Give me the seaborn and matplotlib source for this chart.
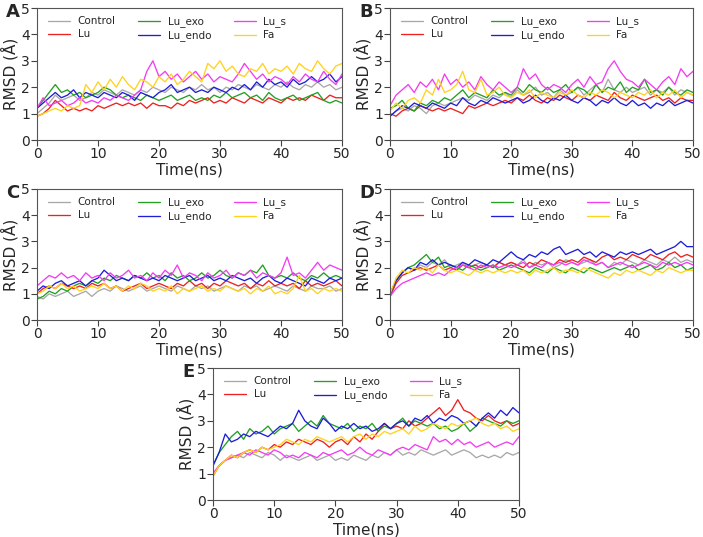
import numpy as np
import pandas as pd
import matplotlib
matplotlib.use("Agg")
import matplotlib.pyplot as plt
import seaborn as sns

# --- 1. DATA (RMSD in Angstrom, sampled every 1 ns) ---
time_ns = list(range(0, 51))
series_names = ["Control", "Lu", "Lu_exo", "Lu_endo", "Lu_s", "Fa"]
panel_letters = ["A", "B", "C", "D", "E"]

# Panel A
ctrl_A = [1.0, 1.2, 1.4, 1.7, 1.5, 1.6, 1.7, 1.5, 1.6, 1.8,
          1.7, 1.9, 1.8, 1.7, 1.9, 1.8, 1.7, 1.9, 1.8, 2.0,
          1.9, 1.8, 2.0, 1.9, 1.8, 2.0, 1.9, 2.1, 1.9, 2.0,
          1.8, 2.0, 1.9, 2.1, 2.0, 1.9, 2.1, 2.0, 1.9, 2.1,
          2.0, 2.2, 2.0, 1.9, 2.1, 2.0, 2.2, 2.0, 2.1, 1.9, 2.0]
lu_A = [0.9, 1.0, 1.2, 1.5, 1.3, 1.1, 1.2, 1.1, 1.2, 1.1,
        1.3, 1.2, 1.3, 1.4, 1.3, 1.4, 1.3, 1.4, 1.2, 1.4,
        1.3, 1.3, 1.2, 1.4, 1.3, 1.5, 1.4, 1.5, 1.6, 1.4,
        1.5, 1.4, 1.6, 1.5, 1.4, 1.6, 1.5, 1.4, 1.6, 1.5,
        1.4, 1.6, 1.5, 1.6, 1.5, 1.7, 1.6, 1.5, 1.7, 1.6, 1.6]
exo_A = [1.2, 1.5, 1.8, 2.1, 1.8, 1.9, 1.7, 1.8, 1.6, 1.7,
         1.8, 2.0, 1.9, 1.7, 1.6, 1.7, 1.6, 1.5, 1.7, 1.6,
         1.5, 1.6, 1.7, 1.5, 1.6, 1.7, 1.5, 1.6, 1.5, 1.7,
         1.6, 1.8, 1.6, 1.7, 1.8, 1.6, 1.7, 1.5, 1.8, 1.6,
         1.5, 1.6, 1.7, 1.5, 1.6, 1.7, 1.8, 1.5, 1.4, 1.5, 1.4]
endo_A = [1.2, 1.4, 1.6, 1.8, 1.6, 1.7, 1.9, 1.6, 1.8, 1.7,
          1.6, 1.8, 1.7, 1.6, 1.8, 1.7, 1.5, 1.8, 1.7, 1.6,
          1.8, 1.9, 2.1, 1.8, 1.9, 2.0, 1.8, 1.9, 1.8, 2.0,
          1.9, 1.8, 2.0, 1.9, 2.1, 1.9, 2.2, 2.0, 2.3, 2.1,
          2.2, 2.0, 2.3, 2.1, 2.2, 2.4, 2.2, 2.3, 2.5, 2.2, 2.4]
s_A = [1.2, 1.6, 1.3, 1.4, 1.5, 1.3, 1.4, 1.6, 1.4, 1.5,
       1.4, 1.6, 1.5, 1.7, 1.6, 1.5, 1.7, 1.9, 2.6, 3.0,
       2.4, 2.6, 2.3, 2.5, 2.2, 2.4, 2.6, 2.3, 2.5, 2.2,
       2.4, 2.3, 2.2, 2.5, 2.9, 2.6, 2.3, 2.5, 2.2, 2.4,
       2.3, 2.1, 2.4, 2.2, 2.5, 2.3, 2.2, 2.6, 2.3, 2.1, 2.5]
fa_A = [0.9, 1.0, 1.1, 1.2, 1.1, 1.3, 1.2, 1.3, 2.1, 1.8,
        2.2, 1.9, 2.3, 2.0, 2.4, 2.1, 1.9, 2.3, 2.2, 2.0,
        2.4, 2.2, 2.5, 2.1, 2.3, 2.6, 2.4, 2.2, 2.9, 2.7,
        3.0, 2.6, 2.8, 2.5, 2.4, 2.7, 2.6, 2.9, 2.5, 2.7,
        2.6, 2.8, 2.5, 2.9, 2.7, 2.6, 3.0, 2.7, 2.5, 2.8, 2.9]

# Panel B
ctrl_B = [0.9, 1.1, 1.2, 1.1, 1.3, 1.2, 1.0, 1.3, 1.4, 1.3,
          1.4, 1.5, 1.6, 1.5, 1.7, 1.6, 1.5, 1.7, 1.6, 1.8,
          1.6, 1.9, 1.7, 1.8, 2.0, 1.7, 1.8, 1.6, 1.9, 1.7,
          1.8, 2.0, 1.7, 1.9, 2.1, 1.8, 2.3, 1.9, 1.8, 2.0,
          1.8, 1.9, 2.0, 1.7, 1.9, 1.8, 2.0, 1.7, 1.9, 1.8, 1.7]
lu_B = [1.0, 0.9, 1.1, 1.2, 1.1, 1.3, 1.2, 1.1, 1.2, 1.1,
        1.2, 1.1, 1.0, 1.3, 1.2, 1.3, 1.4, 1.3, 1.4, 1.5,
        1.4, 1.6, 1.5, 1.7, 1.5, 1.4, 1.6, 1.5, 1.7, 1.6,
        1.5, 1.7, 1.6, 1.5, 1.7, 1.6, 1.5, 1.8, 1.6, 1.5,
        1.7, 1.6, 1.5, 1.6, 1.7, 1.5, 1.6, 1.4, 1.6, 1.5, 1.5]
exo_B = [1.2, 1.3, 1.5, 1.2, 1.1, 1.4, 1.3, 1.5, 1.4, 1.6,
         1.5, 1.7, 1.9, 1.6, 1.8, 1.7, 1.6, 1.9, 1.7, 1.8,
         1.7, 2.0, 1.8, 2.1, 1.9, 1.8, 2.0, 1.8, 1.9, 2.1,
         1.8, 2.0, 1.9, 1.7, 2.1, 1.8, 2.0, 1.9, 2.2, 1.8,
         2.0, 1.9, 2.3, 1.8, 1.9, 1.7, 2.0, 1.8, 1.7, 1.9, 1.8]
endo_B = [0.9, 1.1, 1.3, 1.2, 1.4, 1.3, 1.2, 1.4, 1.3, 1.2,
          1.4, 1.3, 1.6, 1.4, 1.3, 1.5, 1.4, 1.6, 1.5, 1.4,
          1.5, 1.6, 1.4, 1.5, 1.7, 1.5, 1.4, 1.6, 1.5, 1.7,
          1.5, 1.4, 1.6, 1.5, 1.3, 1.5, 1.4, 1.6, 1.4, 1.3,
          1.5, 1.3, 1.4, 1.2, 1.4, 1.3, 1.5, 1.3, 1.4, 1.5, 1.4]
s_B = [1.3, 1.7, 1.9, 2.1, 1.8, 2.2, 2.0, 2.3, 1.9, 2.5,
       2.1, 2.3, 2.0, 2.2, 1.9, 2.4, 2.1, 1.9, 2.2, 2.0,
       1.8, 2.0, 2.7, 2.3, 2.5, 2.1, 1.9, 2.1, 2.0, 1.8,
       2.1, 2.3, 2.0, 2.4, 2.1, 2.2, 2.7, 3.0, 2.6, 2.3,
       2.2, 2.0, 2.3, 2.1, 1.9, 2.2, 2.4, 2.1, 2.7, 2.4, 2.6]
fa_B = [1.1, 1.4, 1.2, 1.5, 1.6, 1.4, 1.9, 1.7, 2.3, 1.8,
        1.9, 2.1, 2.6, 1.9, 1.8, 2.3, 1.7, 1.8, 2.0, 1.7,
        1.6, 1.8, 1.7, 1.9, 1.6, 1.8, 1.7, 1.6, 1.8, 1.7,
        1.9, 1.7, 1.6, 1.8, 1.7, 1.9, 1.8, 1.6, 1.8, 1.7,
        1.6, 1.8, 1.7, 1.9, 1.6, 1.8, 1.7, 1.9, 1.6, 1.8, 1.7]

# Panel C
ctrl_C = [0.9, 0.8, 1.0, 0.9, 1.0, 1.1, 0.9, 1.0, 1.1, 0.9,
          1.1, 1.2, 1.1, 1.3, 1.2, 1.1, 1.2, 1.3, 1.1, 1.2,
          1.3, 1.2, 1.1, 1.3, 1.2, 1.1, 1.3, 1.2, 1.3, 1.1,
          1.2, 1.3, 1.2, 1.1, 1.3, 1.2, 1.3, 1.1, 1.2, 1.3,
          1.2, 1.1, 1.3, 1.2, 1.1, 1.3, 1.2, 1.2, 1.3, 1.1, 1.2]
lu_C = [1.0, 1.2, 1.3, 1.2, 1.4, 1.3, 1.2, 1.3, 1.2, 1.4,
        1.3, 1.4, 1.2, 1.3, 1.1, 1.2, 1.3, 1.4, 1.2, 1.3,
        1.4, 1.3, 1.2, 1.4, 1.3, 1.5, 1.3, 1.4, 1.2, 1.4,
        1.3, 1.5, 1.4, 1.3, 1.4, 1.2, 1.4, 1.3, 1.5, 1.3,
        1.4, 1.3, 1.4, 1.2, 1.5, 1.3, 1.4, 1.3, 1.4, 1.5, 1.3]
exo_C = [0.8, 0.9, 1.1, 1.0, 1.2, 1.1, 1.3, 1.4, 1.3, 1.5,
         1.4, 1.6, 1.5, 1.7, 1.6, 1.5, 1.7, 1.6, 1.8, 1.6,
         1.7, 1.5, 1.8, 1.6, 1.7, 1.5, 1.6, 1.8, 1.6, 1.7,
         1.9, 1.7, 1.6, 1.8, 1.7, 1.9, 1.8, 2.1, 1.7, 1.6,
         1.7, 1.6, 1.8, 1.6, 1.5, 1.7, 1.6, 1.8, 1.6, 1.7, 1.6]
endo_C = [1.1, 1.3, 1.2, 1.4, 1.5, 1.3, 1.4, 1.5, 1.3, 1.5,
          1.6, 1.9, 1.7, 1.5, 1.6, 1.5, 1.7, 1.6, 1.5, 1.6,
          1.5, 1.7, 1.6, 1.5, 1.6, 1.7, 1.5, 1.6, 1.7, 1.5,
          1.6, 1.5, 1.7, 1.6, 1.5, 1.6, 1.4, 1.6, 1.7, 1.5,
          1.4, 1.6, 1.5, 1.4, 1.3, 1.6, 1.5, 1.4, 1.6, 1.5, 1.6]
s_C = [1.3, 1.5, 1.7, 1.6, 1.8, 1.6, 1.7, 1.5, 1.8, 1.6,
       1.7, 1.5, 1.8, 1.6, 1.7, 1.9, 1.6, 1.7, 1.5, 1.8,
       1.6, 1.9, 1.7, 2.1, 1.6, 1.8, 1.7, 1.5, 1.8, 1.6,
       1.7, 1.9, 1.6, 1.8, 1.7, 1.9, 1.6, 1.8, 1.7, 1.6,
       1.8, 2.4, 1.7, 1.8, 1.6, 1.9, 2.2, 1.9, 2.1, 2.0, 1.9]
fa_C = [1.0, 1.1, 1.3, 1.2, 1.4, 1.2, 1.3, 1.1, 1.2, 1.3,
        1.2, 1.4, 1.2, 1.3, 1.1, 1.3, 1.2, 1.4, 1.3, 1.1,
        1.2, 1.1, 1.3, 1.0, 1.2, 1.1, 1.2, 1.3, 1.1, 1.2,
        1.1, 1.3, 1.2, 1.1, 1.2, 1.0, 1.2, 1.1, 1.3, 1.0,
        1.1, 1.0, 1.2, 1.7, 1.1, 1.2, 1.0, 1.2, 1.1, 1.2, 1.1]

# Panel D
ctrl_D = [0.9, 1.5, 1.8, 2.0, 1.9, 2.1, 2.0, 2.2, 2.1, 2.3,
          2.0, 2.1, 2.2, 2.0, 2.1, 2.2, 2.1, 2.0, 2.2, 2.1,
          2.2, 2.1, 2.3, 2.0, 2.2, 2.1, 2.2, 2.0, 2.1, 2.3,
          2.2, 2.1, 2.2, 2.3, 2.1, 2.2, 2.0, 2.2, 2.1, 2.3,
          2.2, 2.1, 2.3, 2.2, 2.1, 2.3, 2.2, 2.4, 2.2, 2.3, 2.2]
lu_D = [0.9, 1.4, 1.7, 1.8, 1.9, 2.0, 1.9, 2.0, 2.1, 1.9,
        2.0, 1.9, 2.1, 2.0, 2.1, 2.0, 2.1, 2.0, 2.2, 2.1,
        2.2, 2.1, 2.0, 2.2, 2.1, 2.3, 2.2, 2.1, 2.3, 2.2,
        2.3, 2.2, 2.4, 2.3, 2.2, 2.4, 2.5, 2.3, 2.4, 2.3,
        2.5, 2.4, 2.3, 2.5, 2.4, 2.3, 2.5, 2.6, 2.4, 2.5, 2.4]
exo_D = [1.0, 1.5, 1.8, 2.0, 2.1, 2.3, 2.5, 2.2, 2.4, 2.0,
         2.1, 2.0, 1.9, 2.1, 2.0, 1.9, 2.0, 2.1, 1.9, 2.0,
         2.1, 2.0, 1.9, 1.8, 2.0, 1.9, 1.8, 2.0, 1.9, 1.8,
         2.0, 1.9, 1.8, 2.0, 1.9, 1.8, 1.9, 2.0, 1.9, 2.0,
         2.1, 1.9, 2.0, 2.1, 1.9, 2.0, 2.2, 2.0, 2.1, 1.9, 2.0]
endo_D = [1.0, 1.5, 1.8, 2.0, 1.9, 2.2, 2.1, 2.3, 2.1, 2.2,
          2.1, 2.0, 2.2, 2.1, 2.3, 2.2, 2.1, 2.3, 2.2, 2.4,
          2.6, 2.4, 2.3, 2.5, 2.4, 2.6, 2.5, 2.7, 2.8, 2.5,
          2.6, 2.7, 2.5, 2.6, 2.4, 2.6, 2.5, 2.4, 2.6, 2.5,
          2.6, 2.5, 2.6, 2.7, 2.5, 2.6, 2.7, 2.8, 3.0, 2.8, 2.8]
s_D = [0.9, 1.2, 1.4, 1.5, 1.6, 1.7, 1.8, 1.7, 1.8, 1.7,
       1.9, 2.0, 2.1, 2.0, 1.9, 2.1, 2.0, 2.1, 2.0, 2.1,
       2.0, 2.1, 2.2, 2.0, 2.1, 2.0, 2.2, 2.1, 2.2, 2.1,
       2.2, 2.1, 2.3, 2.2, 2.1, 2.2, 2.0, 2.1, 2.2, 2.1,
       2.0, 2.1, 2.2, 2.1, 2.0, 2.2, 2.1, 2.2, 2.1, 2.2, 2.1]
fa_D = [1.0, 1.6, 1.9, 1.8, 2.0, 1.9, 2.0, 1.8, 2.1, 1.9,
        1.8, 1.9, 1.8, 1.7, 1.9, 1.8, 1.9, 1.8, 1.9, 1.8,
        1.9, 1.8, 1.9, 1.7, 1.9, 1.8, 1.9, 2.0, 1.8, 1.9,
        1.9, 1.8, 2.0, 1.9, 1.8, 1.7, 1.6, 1.8, 1.7, 1.9,
        1.8, 1.9, 1.8, 1.7, 1.9, 1.8, 2.0, 1.9, 1.8, 1.9, 1.9]

# Panel E
ctrl_E = [1.0, 1.3, 1.5, 1.6, 1.7, 1.6, 1.8, 1.7, 1.6, 1.8,
          1.7, 1.5, 1.7, 1.6, 1.5, 1.6, 1.7, 1.5, 1.6, 1.7,
          1.5, 1.6, 1.5, 1.7, 1.6, 1.5, 1.7, 1.6, 1.8, 1.7,
          1.9, 1.7, 1.8, 1.7, 1.9, 1.8, 1.7, 1.8, 1.9, 1.7,
          1.8, 1.9, 1.8, 1.6, 1.7, 1.6, 1.7, 1.6, 1.8, 1.7, 1.8]
lu_E = [0.9, 1.3, 1.5, 1.7, 1.6, 1.8, 1.9, 1.8, 2.0, 1.9,
        2.1, 2.0, 2.2, 2.1, 2.3, 2.2, 2.1, 2.3, 2.2, 2.0,
        2.2, 2.3, 2.1, 2.4, 2.2, 2.5, 2.3, 2.6, 2.9, 2.7,
        2.8, 2.7, 3.0, 2.8, 2.9, 3.1, 3.3, 3.5, 3.2, 3.4,
        3.8, 3.4, 3.3, 3.1, 3.0, 3.2, 3.0, 2.9, 3.0, 2.8, 2.9]
exo_E = [1.3, 1.8, 2.1, 2.4, 2.6, 2.3, 2.7, 2.5, 2.6, 2.8,
         2.5, 2.7, 2.8, 2.9, 2.6, 2.8, 3.0, 2.8, 3.2, 2.9,
         2.8, 2.7, 2.9, 2.6, 2.8, 2.7, 2.9, 2.6, 2.8, 2.7,
         2.9, 3.1, 2.8, 3.0, 2.9, 2.8, 2.9, 2.7, 2.8, 2.6,
         2.7, 2.9, 2.6, 2.8, 3.1, 3.0, 2.9, 2.8, 3.0, 2.9, 3.0]
endo_E = [1.3, 1.8, 2.5, 2.2, 2.3, 2.5, 2.4, 2.6, 2.5, 2.4,
          2.6, 2.8, 2.7, 2.9, 3.4, 3.0, 2.8, 2.7, 3.1, 2.9,
          2.6, 2.8, 2.7, 2.9, 2.7, 2.8, 2.6, 2.7, 2.9, 2.7,
          2.9, 3.0, 2.8, 3.1, 3.0, 3.2, 2.9, 3.1, 3.0, 3.2,
          3.1, 2.9, 3.0, 2.8, 3.1, 3.3, 3.1, 3.4, 3.2, 3.5, 3.3]
s_E = [1.0, 1.3, 1.5, 1.6, 1.7, 1.8, 1.7, 1.9, 1.8, 1.7,
       1.9, 1.8, 1.6, 1.7, 1.6, 1.8, 1.7, 1.6, 1.8, 1.7,
       1.8, 1.9, 1.7, 1.8, 2.0, 1.8, 1.7, 1.9, 1.8, 1.7,
       1.9, 2.0, 1.9, 2.1, 2.0, 1.9, 2.4, 2.2, 2.3, 2.1,
       2.3, 2.1, 2.2, 2.0, 2.1, 2.2, 2.0, 2.1, 2.2, 2.1, 2.4]
fa_E = [0.9, 1.3, 1.5, 1.7, 1.6, 1.8, 1.9, 1.8, 2.0, 1.9,
        2.0, 2.1, 2.3, 2.2, 2.1, 2.3, 2.2, 2.4, 2.3, 2.2,
        2.3, 2.4, 2.2, 2.4, 2.5, 2.3, 2.5, 2.4, 2.6, 2.5,
        2.6, 2.7, 2.5, 2.8, 2.6, 2.7, 2.9, 2.8, 2.7, 2.9,
        2.8, 2.9, 3.0, 3.1, 2.9, 2.8, 2.9, 2.7, 2.8, 2.6, 2.7]

panels = {
    "A": [ctrl_A, lu_A, exo_A, endo_A, s_A, fa_A],
    "B": [ctrl_B, lu_B, exo_B, endo_B, s_B, fa_B],
    "C": [ctrl_C, lu_C, exo_C, endo_C, s_C, fa_C],
    "D": [ctrl_D, lu_D, exo_D, endo_D, s_D, fa_D],
    "E": [ctrl_E, lu_E, exo_E, endo_E, s_E, fa_E],
}

palette = {
    "Control": "#a8a8a8",
    "Lu": "#ee2020",
    "Lu_exo": "#22a022",
    "Lu_endo": "#1e1ed8",
    "Lu_s": "#f23cf2",
    "Fa": "#ffd21c",
}

# --- 2. STYLE ---
sns.set_style("ticks")
plt.rcParams["font.family"] = ["DejaVu Sans"]

W, H = 703, 537
fig = plt.figure(figsize=(W / 100, H / 100), dpi=100)

# axes boxes in pixels: left, top, right, bottom
boxes = {
    "A": (37, 8, 342, 140),
    "B": (390, 8, 693, 140),
    "C": (37, 189, 342, 320),
    "D": (390, 189, 693, 320),
    "E": (213, 368, 519, 500),
}

for letter in panel_letters:
    l, t, r, b = boxes[letter]
    ax = fig.add_axes([l / W, 1 - b / H, (r - l) / W, (b - t) / H])
    rows = []
    for name, vals in zip(series_names, panels[letter]):
        for tt, v in zip(time_ns, vals):
            rows.append((tt, v, name))
    df = pd.DataFrame(rows, columns=["time", "rmsd", "series"])
    sns.lineplot(data=df, x="time", y="rmsd", hue="series",
                 hue_order=series_names, palette=palette,
                 linewidth=0.95, ax=ax)

    ax.set_xlim(0, 50)
    ax.set_ylim(0, 5)
    ax.set_xticks([0, 10, 20, 30, 40, 50])
    ax.set_yticks([0, 1, 2, 3, 4, 5])
    ax.tick_params(labelsize=10, length=4, width=0.8, color="#444444", pad=1)
    for sp in ax.spines.values():
        sp.set_color("#555555")
        sp.set_linewidth(0.8)
    ax.set_xlabel("Time(ns)", fontsize=11, labelpad=1)
    ax.set_ylabel("RMSD (Å)", fontsize=11, labelpad=2)
    ax.legend(ncol=3, loc="upper left", frameon=False, fontsize=7.5,
              handlelength=2.1, handletextpad=0.7, columnspacing=2.2,
              labelspacing=0.3, borderaxespad=0.4, bbox_to_anchor=(0.01, 1.0))

    fig.text((l - 31) / W, 1 - (t - 5) / H, letter, fontsize=13,
             fontweight="bold", va="top", ha="left")

fig.savefig("out.png", dpi=100)
